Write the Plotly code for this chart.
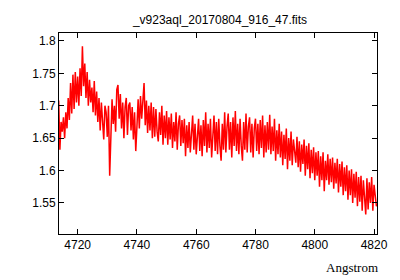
import numpy as np
import plotly.graph_objects as go

title_text = "_v923aql_20170804_916_47.fits"
x_label = "Angstrom"
wl_start = 4713.6
wl_step = 0.4
flux = [
    1.708,1.632,1.675,1.660,1.682,1.650,1.690,1.665,1.712,1.678,
    1.735,1.688,1.748,1.695,1.752,1.705,1.745,1.700,1.758,1.715,
    1.792,1.730,1.765,1.712,1.752,1.700,1.740,1.705,1.728,1.690,
    1.738,1.685,1.722,1.675,1.712,1.662,1.705,1.672,1.648,1.700,
    1.690,1.652,1.700,1.592,1.655,1.710,1.672,1.700,1.660,1.725,
    1.732,1.680,1.718,1.665,1.705,1.650,1.698,1.712,1.655,1.700,
    1.705,1.662,1.698,1.648,1.690,1.630,1.668,1.710,1.665,1.715,
    1.680,1.712,1.735,1.670,1.708,1.658,1.700,1.662,1.705,1.650,
    1.698,1.652,1.695,1.660,1.645,1.690,1.655,1.700,1.640,1.685,
    1.650,1.692,1.640,1.682,1.648,1.688,1.635,1.675,1.645,1.690,
    1.632,1.672,1.685,1.638,1.678,1.642,1.680,1.622,1.670,1.635,
    1.675,1.628,1.668,1.685,1.632,1.672,1.625,1.665,1.680,1.630,
    1.670,1.622,1.678,1.638,1.690,1.628,1.672,1.635,1.680,1.620,
    1.665,1.685,1.630,1.675,1.625,1.680,1.638,1.615,1.672,1.632,
    1.690,1.628,1.668,1.688,1.632,1.675,1.620,1.682,1.638,1.692,
    1.630,1.672,1.625,1.680,1.638,1.615,1.675,1.632,1.688,1.628,
    1.668,1.682,1.628,1.672,1.620,1.665,1.680,1.630,1.672,1.625,
    1.678,1.635,1.685,1.620,1.670,1.628,1.675,1.632,1.686,1.625,
    1.668,1.630,1.680,1.615,1.662,1.625,1.672,1.620,1.660,1.608,
    1.655,1.618,1.665,1.602,1.650,1.615,1.660,1.608,1.648,1.632,
    1.612,1.652,1.605,1.645,1.598,1.640,1.610,1.648,1.592,1.638,
    1.602,1.642,1.588,1.632,1.596,1.636,1.585,1.628,1.592,1.630,
    1.575,1.622,1.585,1.628,1.568,1.615,1.585,1.625,1.578,1.618,
    1.582,1.620,1.572,1.612,1.580,1.618,1.566,1.610,1.575,1.614,
    1.562,1.605,1.568,1.608,1.555,1.600,1.562,1.602,1.550,1.595,
    1.558,1.598,1.545,1.590,1.552,1.592,1.538,1.585,1.548,1.532,
    1.588,1.540,1.582,1.550,1.590,1.538,1.578,1.565,1.545,1.548,
]
wavelength = wl_start + wl_step * np.arange(len(flux))
x_ticks = [4720, 4740, 4760, 4780, 4800, 4820]
y_ticks = [1.55, 1.6, 1.65, 1.7, 1.75, 1.8]

fig = go.Figure()
fig.add_trace(go.Scatter(x=wavelength, y=flux, mode="lines",
                         line=dict(color="#ff0000", width=1.5), showlegend=False))

axis_common = dict(showgrid=False, zeroline=False, showline=True, linecolor="black",
                   linewidth=1, mirror="allticks", ticks="inside", ticklen=5,
                   tickcolor="black", tickfont=dict(family="Liberation Sans", size=12, color="black"))
fig.update_xaxes(range=[4713.7, 4821], tickvals=x_ticks, **axis_common)
fig.update_yaxes(range=[1.502, 1.8123], tickvals=y_ticks,
                 ticktext=["1.55", "1.6", "1.65", "1.7", "1.75", "1.8"], **axis_common)

fig.update_layout(
    width=400, height=280,
    margin=dict(l=59, r=19, t=33, b=46),
    paper_bgcolor="white", plot_bgcolor="white",
    title=dict(text=title_text, x=0.55, xanchor="center", y=0.93, yanchor="middle",
               font=dict(family="Liberation Sans", size=12, color="black")),
    annotations=[dict(text=x_label, xref="paper", yref="paper", x=1.01, y=-0.12,
                      xanchor="right", yanchor="top", showarrow=False,
                      font=dict(family="Liberation Serif", size=13, color="black"))],
)
fig.write_html("out.html", config={"displayModeBar": False},
               post_script="document.body.style.margin='0';")
